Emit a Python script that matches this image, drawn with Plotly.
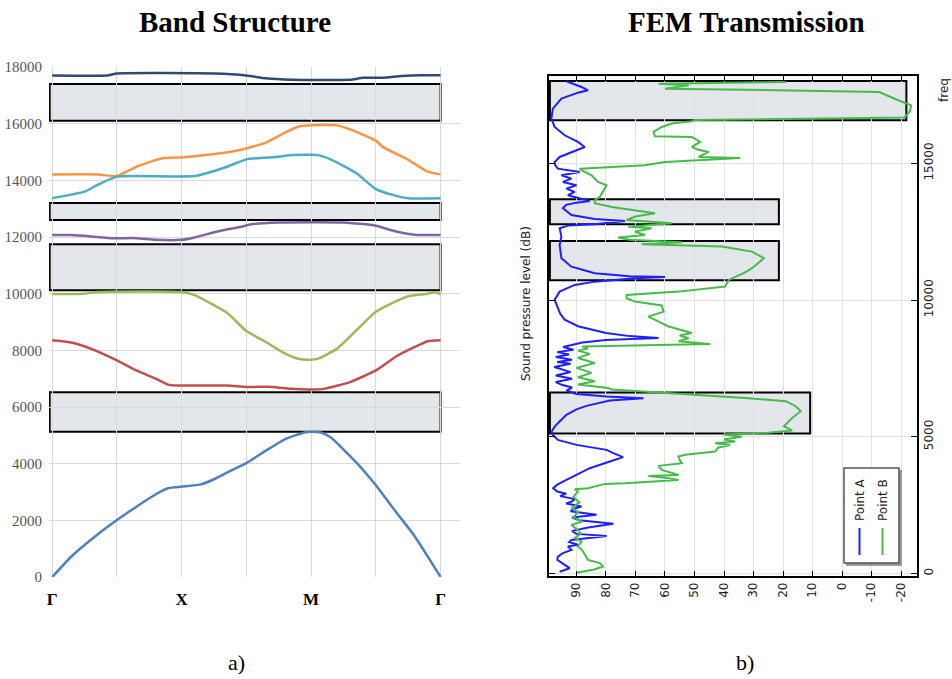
import plotly.graph_objects as go

W, H = 952, 679

# ---------------- Band structure data (k-path units: Γ=0, X=2, M=4, Γ=6) ----------------
k_ticks = [0, 1, 2, 3, 4, 5, 6]
k_labels = ["<b>Γ</b>", "", "<b>X</b>", "", "<b>M</b>", "", "<b>Γ</b>"]
f_ticks = [0, 2000, 4000, 6000, 8000, 10000, 12000, 14000, 16000, 18000]
f_labels = [str(v) for v in f_ticks]

band_navy_k = [0, 0.85, 1.0, 2.5, 3.0, 3.3, 3.7, 4.6, 4.8, 5.1, 5.4, 5.7, 6]
band_navy_f = [17700, 17700, 17770, 17770, 17700, 17600, 17550, 17550, 17620, 17620, 17680, 17710, 17710]

band_orange_k = [0, 0.7, 1.0, 1.3, 1.7, 2.0, 2.4, 2.9, 3.3, 3.6, 3.8, 4.0, 4.4, 4.6, 5.0, 5.1, 5.5, 5.8, 6]
band_orange_f = [14210, 14210, 14150, 14480, 14780, 14810, 14900, 15070, 15330, 15690, 15890, 15940, 15940, 15800, 15400, 15190, 14720, 14310, 14210]

band_cyan_k = [0, 0.5, 0.7, 1.0, 2.2, 2.7, 3.0, 3.5, 3.7, 4.1, 4.3, 4.7, 5.0, 5.3, 5.5, 6]
band_cyan_f = [13370, 13600, 13840, 14130, 14150, 14480, 14740, 14830, 14890, 14890, 14740, 14250, 13690, 13460, 13370, 13370]

band_purple_k = [0, 0.3, 0.6, 0.9, 1.3, 1.6, 2.0, 2.2, 2.6, 2.9, 3.1, 3.5, 4.5, 5.0, 5.3, 5.6, 6]
band_purple_f = [12070, 12070, 12020, 11960, 11960, 11900, 11900, 11985, 12220, 12350, 12455, 12515, 12515, 12400, 12200, 12080, 12070]

band_green_k = [0, 0.5, 0.7, 2.0, 2.2, 2.7, 3.0, 3.3, 3.6, 3.8, 4.0, 4.1, 4.4, 4.7, 5.0, 5.3, 5.5, 5.8, 5.9, 6]
band_green_f = [9990, 10000, 10060, 10060, 9950, 9325, 8680, 8295, 7880, 7700, 7670, 7700, 8060, 8710, 9360, 9720, 9910, 10000, 10050, 9990]

band_red_k = [0, 0.33, 0.7, 1.0, 1.3, 1.6, 1.8, 2.0, 2.7, 3.0, 3.4, 3.7, 4.0, 4.2, 4.6, 5.0, 5.3, 5.6, 5.8, 6]
band_red_f = [8355, 8260, 7965, 7645, 7290, 7000, 6780, 6760, 6760, 6710, 6710, 6640, 6620, 6640, 6880, 7290, 7765, 8120, 8320, 8355]

band_blue_k = [0, 0.3, 0.7, 1.0, 1.3, 1.6, 1.8, 2.0, 2.3, 2.5, 2.8, 3.0, 3.3, 3.6, 3.9, 4.0, 4.15, 4.3, 4.7, 5.0, 5.3, 5.6, 6]
band_blue_f = [0, 733, 1500, 2010, 2480, 2920, 3140, 3190, 3270, 3450, 3800, 4020, 4460, 4870, 5100, 5130, 5100, 4930, 4040, 3240, 2330, 1440, 0]

# band gaps (freq low, high) on the dispersion plot
band_gaps = [(16100, 17400), (12600, 13200), (10120, 11740), (5130, 6520)]

# ---------------- FEM transmission data ----------------
pointA_freq = [67, 195, 318, 500, 620, 745, 866, 987, 1050, 1150, 1230, 1300, 1372, 1450, 1560, 1680, 1817,
               1950, 2050, 2146, 2280, 2380, 2449, 2560, 2640, 2720, 2830, 2920, 3000, 3121, 3250, 3424, 3650,
               3852, 4094, 4255, 4400, 4521, 4704, 4886, 5070, 5190, 5350, 5497, 5800, 6000, 6130, 6323, 6410,
               6470, 6567, 6690, 6800, 6900, 7000, 7123, 7243, 7365, 7548, 7670, 7730, 7815, 7913, 8008, 8095,
               8180, 8280, 8370, 8450, 8540, 8615, 8680, 8797, 9042, 9284, 9500, 9700, 10004, 10307, 10552,
               10672, 10724, 10800, 10844, 10870, 10979, 11220, 11528, 12014, 12317, 12624, 12720, 12771, 12891,
               12964, 13110, 13355, 13480, 13560, 13620, 13706, 13830, 13951, 14072, 14196, 14317, 14437, 14561,
               14682, 14803, 14930, 15047, 15230, 15413, 15596, 15779, 16023, 16327, 16630, 16996, 17361, 17580,
               17668, 17789, 17910, 17997]
pointA_db = [95.7, 92.3, 94.0, 96.5, 96.3, 94.6, 91.7, 92.9, 89.5, 92.5, 91.7, 86.5, 79.8, 90.0, 91.5, 86.0, 77.5,
             89.0, 91.5, 83.2, 92.0, 90.5, 88.3, 93.5, 91.5, 90.6, 95.5, 93.5, 96.5, 97.9, 96.5, 93.4, 89.5,
             85.5, 78.7, 74.2, 77.5, 79.8, 90.0, 96.3, 98.0, 98.4, 97.5, 96.3, 93.4, 90.0, 86.6, 78.7, 67.3,
             79.8, 90.0, 93.4, 91.5, 95.0, 97.0, 91.5, 97.0, 92.0, 97.5, 92.0, 96.5, 91.5, 97.0, 92.5, 96.5,
             91.0, 94.5, 90.4, 88.0, 80.0, 62.2, 72.0, 80.0, 89.5, 94.0, 95.5, 96.3, 97.4, 95.7, 90.6,
             83.8, 78.1, 70.0, 60.0, 72.0, 83.8, 91.7, 95.1, 95.7, 95.1, 95.7, 92.8, 83.8, 73.6,
             83.8, 91.7, 94.6, 93.5, 90.0, 85.5, 88.3, 92.9, 90.6, 93.4, 90.0, 94.6, 91.7, 95.1,
             88.9, 96.3, 97.2, 97.4, 95.7, 91.7, 87.2, 89.5, 94.0, 97.4, 98.5, 98.0, 95.1, 89.5,
             86.1, 88.3, 91.7, 93.4]

pointB_freq = [30, 150, 256, 380, 500, 683, 850, 987, 1170, 1300, 1450, 1597, 1780, 1900, 2050, 2250, 2400,
               2600, 2800, 3000, 3085, 3121, 3278, 3303, 3362, 3424, 3500, 3570, 3607, 3700, 3790, 3936, 4035,
               4150, 4277, 4340, 4459, 4600, 4700, 4766, 4825, 4900, 5000, 5080, 5150, 5227, 5387, 5690, 5935,
               6118, 6301, 6422, 6542, 6641, 6725, 6787, 6909, 7032, 7178, 7335, 7518, 7700, 7883, 8030, 8150,
               8225, 8300, 8395, 8494, 8600, 8700, 8797, 8918, 9042, 9152, 9393, 9576, 9800, 9942, 10066, 10187,
               10307, 10490, 10735, 11000, 11162, 11528, 11769, 11952, 12014, 12039, 12112, 12200, 12281, 12379,
               12500, 12624, 12683, 12807, 12928, 13050, 13172, 13231, 13400, 13538, 13648, 13768, 14000, 14196,
               14317, 14561, 14744, 14803, 14927, 15048, 15194, 15230, 15413, 15500, 15596, 15779, 15961, 15990,
               16144, 16327, 16450, 16535, 16580, 16670, 16900, 17120, 17350, 17606, 17700, 17727, 17851, 17910,
               17971]
pointB_db = [90.0, 84.0, 81.0, 82.1, 86.1, 87.2, 88.0, 89.5, 88.3, 90.5, 88.5, 89.5, 91.7, 88.0, 91.0, 89.5, 91.5,
             89.0, 91.0, 89.5, 90.6, 86.1, 80.4, 73.6, 64.5, 55.4, 60.0, 65.6, 55.4, 58.0, 61.1, 62.2, 54.3,
             55.0, 55.4, 53.2, 43.0, 42.0, 38.0, 43.0, 36.2, 40.0, 34.0, 40.0, 25.0, 16.9, 19.7, 16.9, 14.0,
             15.7, 19.1, 32.8, 49.8, 66.8, 78.1, 79.3, 89.5, 83.8, 89.5, 84.9, 90.0, 83.8, 89.5, 85.5, 89.5,
             86.1, 88.0, 44.7, 55.4, 52.0, 55.0, 50.9, 55.4, 59.0, 61.1, 65.6, 60.5, 61.1, 70.2, 73.0, 73.0,
             55.4, 39.6, 38.4, 33.0, 30.5, 26.5, 30.5, 40.7, 61.1, 67.9, 54.3, 72.0, 75.9, 66.8,
             70.2, 64.5, 72.4, 57.7, 73.0, 70.0, 63.4, 66.8, 78.0, 83.8, 83.8, 82.1, 81.0, 79.8,
             82.7, 84.9, 88.3, 88.9, 66.8, 60.0, 34.5, 48.6, 45.2, 49.0, 50.9, 48.1, 50.9, 63.4,
             63.9, 61.1, 57.7, 50.9, 50.0, -21.1, -23.0, -23.4, -18.0, -12.6, 40.0, 60.0, 52.0, 62.2,
             19.1]

# stop bands on the FEM plot: (freq low, freq high, dB extent)
fem_gaps = [(16572, 18008, -21.8), (12770, 13684, 21.4), (10724, 12160, 21.4), (5124, 6623, 10.8)]

db_ticks = [90, 80, 70, 60, 50, 40, 30, 20, 10, 0, -10, -20]
db_labels = ["90", "80", "70", "60", "50", "40", "30", "20", "10", "0", "-10", "-20"]
freq_ticks = [0, 5000, 10000, 15000]
freq_labels = ["0", "5000", "10000", "15000"]

# ---------------- figure ----------------
def px(x):
    return x / W

def py(y):
    return 1 - y / H

fig = go.Figure()

band_series = [
    (band_navy_k, band_navy_f, "#2e4b74"),
    (band_orange_k, band_orange_f, "#f79646"),
    (band_cyan_k, band_cyan_f, "#4bacc6"),
    (band_purple_k, band_purple_f, "#8064a2"),
    (band_green_k, band_green_f, "#9bbb59"),
    (band_red_k, band_red_f, "#c0504d"),
    (band_blue_k, band_blue_f, "#4f81bd"),
]
for k, f, c in band_series:
    fig.add_trace(go.Scatter(x=k, y=f, mode="lines", line=dict(color=c, width=2.5, shape="spline", smoothing=0.5),
                             xaxis="x", yaxis="y", showlegend=False, hoverinfo="skip"))

fig.add_trace(go.Scatter(x=pointA_db, y=pointA_freq, mode="lines", name="Point A",
                         line=dict(color="#1f1fff", width=2), xaxis="x2", yaxis="y2", showlegend=False))
fig.add_trace(go.Scatter(x=pointB_db, y=pointB_freq, mode="lines", name="Point B",
                         line=dict(color="#45bb4a", width=2), xaxis="x2", yaxis="y2", showlegend=False))

shapes = []
box_fill = "#e3e6eb"
for lo, hi in band_gaps:
    shapes.append(dict(type="rect", xref="x", yref="y", x0=-0.04, x1=6.0, y0=lo, y1=hi,
                       fillcolor=box_fill, line=dict(color="black", width=2), layer="below"))
for lo, hi, db in fem_gaps:
    shapes.append(dict(type="rect", xref="x2", yref="y2", x0=99.0, x1=db, y0=lo, y1=hi,
                       fillcolor=box_fill, line=dict(color="black", width=2), layer="below"))

# hand-drawn (rotated) legend for the FEM plot
shapes.append(dict(type="rect", xref="paper", yref="paper", x0=px(846), x1=px(902), y0=py(566), y1=py(470),
                   fillcolor="#9a9a9a", line=dict(width=0), layer="above"))
shapes.append(dict(type="rect", xref="paper", yref="paper", x0=px(844), x1=px(899), y0=py(563), y1=py(468),
                   fillcolor="white", line=dict(color="#555555", width=1.5), layer="above"))
shapes.append(dict(type="line", xref="paper", yref="paper", x0=px(859.5), x1=px(859.5), y0=py(555), y1=py(528),
                   line=dict(color="#1f1fff", width=2), layer="above"))
shapes.append(dict(type="line", xref="paper", yref="paper", x0=px(882.5), x1=px(882.5), y0=py(555), y1=py(528),
                   line=dict(color="#45bb4a", width=2), layer="above"))

annotations = [
    dict(text="<b>Band Structure</b>", x=px(235), y=py(22), xref="paper", yref="paper", showarrow=False,
         font=dict(family="Liberation Serif", size=29, color="black"), xanchor="center", yanchor="middle"),
    dict(text="<b>FEM Transmission</b>", x=px(746), y=py(22), xref="paper", yref="paper", showarrow=False,
         font=dict(family="Liberation Serif", size=29, color="black"), xanchor="center", yanchor="middle"),
    dict(text="a)", x=px(236), y=py(662), xref="paper", yref="paper", showarrow=False,
         font=dict(family="Liberation Serif", size=22, color="black"), xanchor="center", yanchor="middle"),
    dict(text="b)", x=px(745), y=py(662), xref="paper", yref="paper", showarrow=False,
         font=dict(family="Liberation Serif", size=22, color="black"), xanchor="center", yanchor="middle"),
    dict(text="Sound pressure level (dB)", x=px(526), y=py(304), xref="paper", yref="paper", showarrow=False,
         textangle=-90, font=dict(family="DejaVu Sans", size=12, color="#222"), xanchor="center", yanchor="middle"),
    dict(text="freq", x=px(944), y=py(90), xref="paper", yref="paper", showarrow=False,
         textangle=-90, font=dict(family="DejaVu Sans", size=12, color="#222"), xanchor="center", yanchor="middle"),
    dict(text="Point A", x=px(860), y=py(500), xref="paper", yref="paper", showarrow=False,
         textangle=-90, font=dict(family="DejaVu Sans", size=12, color="#222"), xanchor="center", yanchor="middle"),
    dict(text="Point B", x=px(883), y=py(500), xref="paper", yref="paper", showarrow=False,
         textangle=-90, font=dict(family="DejaVu Sans", size=12, color="#222"), xanchor="center", yanchor="middle"),
]

grid_l = "#d9d9d9"
fig.update_layout(
    width=W, height=H, autosize=False,
    margin=dict(l=0, r=0, t=0, b=0, pad=0),
    paper_bgcolor="white", plot_bgcolor="white",
    showlegend=False,
    shapes=shapes, annotations=annotations,
    xaxis=dict(domain=[px(49), px(460)], range=[-0.05, 6.3], tickvals=k_ticks, ticktext=k_labels,
               showgrid=True, gridcolor=grid_l, gridwidth=1, zeroline=False, showline=False, automargin=False,
               ticks="", tickfont=dict(family="Liberation Serif", size=17, color="black"), ticklabelstandoff=10),
    yaxis=dict(domain=[py(577), py(67)], range=[0, 18000], tickvals=f_ticks, ticktext=f_labels,
               showgrid=True, gridcolor=grid_l, gridwidth=1, zeroline=False, showline=False, ticks="",
               automargin=False,
               tickfont=dict(family="Liberation Serif", size=15, color="#555555"), ticklabelstandoff=6),
    xaxis2=dict(domain=[px(549), px(917)], range=[99.3, -25.4], tickvals=db_ticks, ticktext=db_labels,
                tickangle=-90, automargin=False,
                showgrid=True, gridcolor="#e2e2e2", gridwidth=1, zeroline=False,
                showline=True, linecolor="black", linewidth=1.5, mirror="ticks",
                ticks="inside", ticklen=5, tickcolor="black",
                tickfont=dict(family="DejaVu Sans", size=12, color="#222"), anchor="y2"),
    yaxis2=dict(domain=[py(576), py(76)], range=[-90, 18190], tickvals=freq_ticks, ticktext=freq_labels,
                tickangle=-90, side="right", automargin=False,
                showgrid=True, gridcolor="#e2e2e2", gridwidth=1, zeroline=False,
                showline=True, linecolor="black", linewidth=1.5, mirror="ticks",
                ticks="inside", ticklen=6, tickcolor="black",
                tickfont=dict(family="DejaVu Sans", size=12, color="#222"), anchor="x2"),
)

fig.write_html("out.html")
